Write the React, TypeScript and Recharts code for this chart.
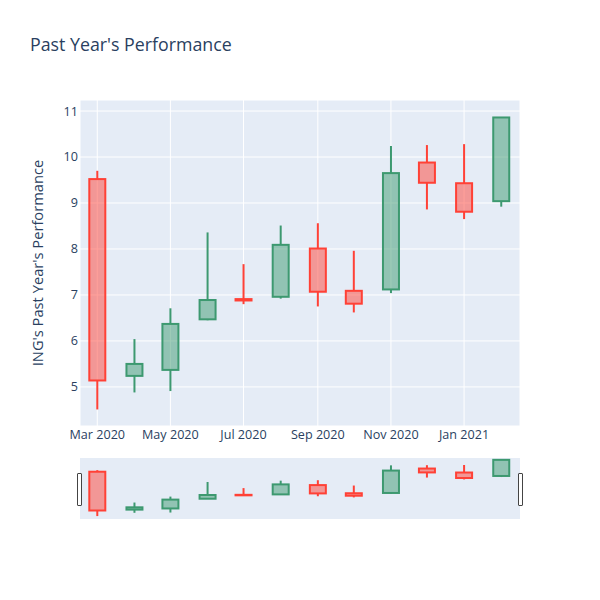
import React from 'react';
import {
  ComposedChart,
  Bar,
  XAxis,
  YAxis,
  CartesianGrid,
} from 'recharts';

// monthly candles, Mar 2020 .. Feb 2021
const months = [
  '2020-03-01', '2020-04-01', '2020-05-01', '2020-06-01', '2020-07-01', '2020-08-01',
  '2020-09-01', '2020-10-01', '2020-11-01', '2020-12-01', '2021-01-01', '2021-02-01',
];
const opens = [9.52, 5.24, 5.37, 6.47, 6.91, 6.96, 8.01, 7.09, 7.12, 9.88, 9.43, 9.04];
const highs = [9.70, 6.04, 6.71, 8.36, 7.67, 8.51, 8.56, 7.96, 10.24, 10.26, 10.28, 10.87];
const lows = [4.51, 4.88, 4.91, 6.45, 6.80, 6.92, 6.75, 6.62, 7.04, 8.86, 8.65, 8.92];
const closes = [5.14, 5.50, 6.37, 6.89, 6.88, 8.09, 7.07, 6.81, 9.65, 9.44, 8.81, 10.86];

const xTickDates = ['2020-03-01', '2020-05-01', '2020-07-01', '2020-09-01', '2020-11-01', '2021-01-01'];
const xTickLabels = ['Mar 2020', 'May 2020', 'Jul 2020', 'Sep 2020', 'Nov 2020', 'Jan 2021'];
const yTicks = [5, 6, 7, 8, 9, 10, 11];

const toTime = (s: string) => new Date(s + 'T00:00:00Z').getTime();

const data = months.map((m, i) => ({
  t: toTime(m),
  open: opens[i],
  high: highs[i],
  low: lows[i],
  close: closes[i],
}));

const xTicks = xTickDates.map(toTime);
const xDomain = [Date.UTC(2020, 1, 15, 14), Date.UTC(2021, 1, 16, 16)];

const UP = '#3D9970';
const DOWN = '#FF4136';
const TEXT = '#2a3f5f';
const BG = '#E5ECF6';
const FONT = '"Open Sans", verdana, arial, sans-serif';

function Candle(props: any) {
  const { x, y, width, height, payload } = props;
  if (!payload) return null;
  const { open, high, low, close } = payload;
  const top = Math.min(y, y + height);
  const h = Math.abs(height);
  const toPx = (v: number) => top + ((high - v) / (high - low || 1)) * h;
  const cx = x + width / 2;
  const up = close >= open;
  const color = up ? UP : DOWN;
  const bTop = toPx(Math.max(open, close));
  const bBot = toPx(Math.min(open, close));
  return (
    <g>
      <line x1={cx} x2={cx} y1={top} y2={bTop} stroke={color} strokeWidth={2} />
      <line x1={cx} x2={cx} y1={bBot} y2={top + h} stroke={color} strokeWidth={2} />
      <rect
        x={x + 1}
        y={bTop}
        width={width - 2}
        height={Math.max(bBot - bTop, 0.5)}
        fill={color}
        fillOpacity={0.5}
        stroke={color}
        strokeWidth={2}
      />
    </g>
  );
}

function YLabel(props: any) {
  const { viewBox } = props;
  const x = viewBox.x + 37;
  const y = viewBox.y + viewBox.height / 2;
  return (
    <text
      x={x}
      y={y}
      transform={`rotate(-90, ${x}, ${y})`}
      textAnchor="middle"
      dominantBaseline="central"
      fill={TEXT}
      fontSize={14.7}
      fontFamily={FONT}
    >
      ING's Past Year's Performance
    </text>
  );
}

const handleStyle: React.CSSProperties = {
  position: 'absolute',
  top: 473,
  width: 3,
  height: 31,
  background: '#fff',
  border: '1px solid #444',
  borderRadius: 1,
};

const tickStyle = { fill: TEXT, fontSize: 12.6, fontFamily: FONT };

export default function App() {
  return (
    <div style={{ position: 'absolute', left: 0, top: 0, width: 600, height: 600, background: '#fff', fontFamily: FONT }}>
      <div style={{ position: 'absolute', left: 30, top: 32, fontSize: 17.8, color: TEXT, whiteSpace: 'nowrap' }}>
        Past Year's Performance
      </div>

      <div style={{ position: 'absolute', left: 0, top: 0 }}>
        <ComposedChart
          width={600}
          height={450}
          data={data}
          margin={{ top: 100, right: 80, bottom: 0, left: 0 }}
        >
          <CartesianGrid stroke="#fff" strokeWidth={1} fill={BG} />
          <XAxis
            dataKey="t"
            type="number"
            scale="time"
            domain={xDomain}
            ticks={xTicks}
            tickFormatter={(v) => xTickLabels[xTicks.indexOf(v)] ?? ''}
            height={24}
            tickLine={false}
            axisLine={false}
            tickSize={0}
            tickMargin={4}
            tick={tickStyle}
            allowDataOverflow
          />
          <YAxis
            type="number"
            domain={[4.15, 11.24]}
            ticks={yTicks}
            width={80}
            tickLine={false}
            axisLine={false}
            tickSize={0}
            tickMargin={2}
            tick={tickStyle}
            label={<YLabel />}
            allowDataOverflow
          />
          <Bar
            dataKey={(d: any) => [d.low, d.high]}
            barSize={18}
            shape={<Candle />}
            isAnimationActive={false}
          />
        </ComposedChart>
      </div>

      {/* range slider panorama */}
      <div style={{ position: 'absolute', left: 0, top: 458 }}>
        <ComposedChart
          width={600}
          height={61}
          data={data}
          margin={{ top: 0, right: 80, bottom: 0, left: 80 }}
        >
          <CartesianGrid horizontal={false} vertical={false} fill={BG} />
          <XAxis dataKey="t" type="number" scale="time" domain={xDomain} hide allowDataOverflow />
          <YAxis type="number" domain={[4.18, 11.07]} hide allowDataOverflow />
          <Bar
            dataKey={(d: any) => [d.low, d.high]}
            barSize={18}
            shape={<Candle />}
            isAnimationActive={false}
          />
        </ComposedChart>
      </div>
      <div style={{ ...handleStyle, left: 77 }} />
      <div style={{ ...handleStyle, left: 518 }} />
    </div>
  );
}
